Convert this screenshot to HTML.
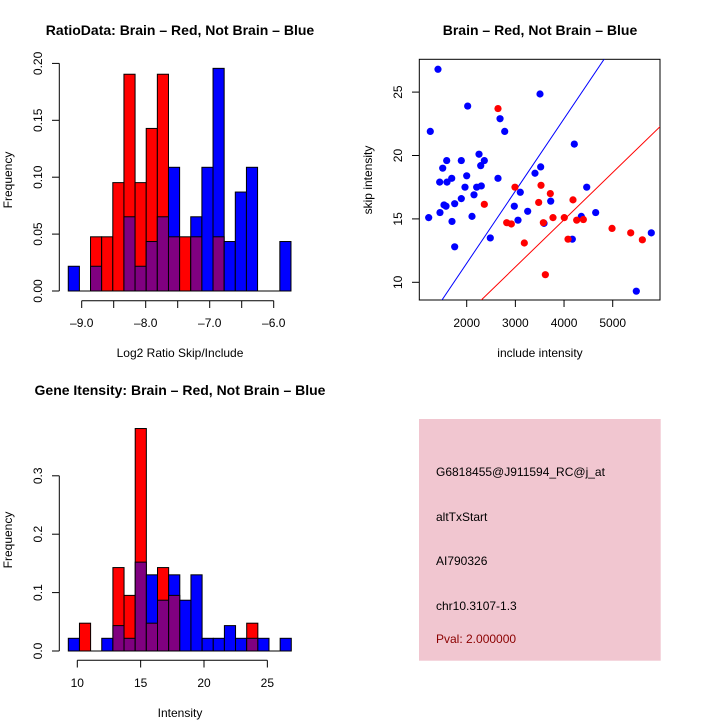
<!DOCTYPE html>
<html><head><meta charset="utf-8"><style>
html,body{margin:0;padding:0;background:#fff;}
svg{display:block;font-family:"Liberation Sans",sans-serif;}
</style></head><body>
<svg id="c" width="720" height="720" viewBox="0 0 720 720">
<defs>
<clipPath id="sc"><rect x="419.3" y="59.3" width="240.7" height="240.7"/></clipPath>
</defs>
<g id="info">
<rect x="419" y="419" width="241.7" height="241.7" fill="#f1c6d0"/>
<text x="436" y="476" font-size="12" fill="#000">G6818455@J911594_RC@j_at</text>
<text x="436" y="521" font-size="12" fill="#000">altTxStart</text>
<text x="436" y="565" font-size="12" fill="#000">AI790326</text>
<text x="436" y="610" font-size="12" fill="#000">chr10.3107-1.3</text>
<text x="436" y="643" font-size="12" fill="#8b0000">Pval: 2.000000</text>
</g>
</svg>
<script>
// Ratio histogram (top-left)
const ratioRed=[0,0,1/21,1/21,2/21,4/21,2/21,3/21,4/21,1/21,1/21,1/21,0,1/21,0,0,0,0,0,0];
const ratioBlue=[1/46,0,1/46,0,0,3/46,1/46,2/46,3/46,5/46,0,3/46,5/46,9/46,2/46,4/46,5/46,0,0,2/46];
const ratioXTicks=[-9,-8.5,-8,-7.5,-7,-6.5,-6];
const ratioXLabels=["-9.0","-8.0","-7.0","-6.0"];
const ratioYTicks=[0,0.05,0.1,0.15,0.2];
const ratioYLabels=["0.00","0.05","0.10","0.15","0.20"];
// Intensity histogram (bottom-left)
const intRed=[0,1/21,0,0,3/21,2/21,8/21,1/21,3/21,2/21,0,0,0,0,0,0,1/21,0,0,0];
const intBlue=[1/46,0,0,1/46,2/46,1/46,7/46,6/46,4/46,6/46,4/46,6/46,1/46,1/46,2/46,1/46,1/46,1/46,0,1/46];
const intXTicks=[10,15,20,25];
const intYTicks=[0,0.1,0.2,0.3];
const intYLabels=["0.0","0.1","0.2","0.3"];
// Scatter (top-right)
const blueX=[1410,3506,2020,2685,1252,2781,4211,1589,1889,1507,2253,2362,2288,3520,3403,2000,1692,2643,1445,1595,1965,2205,2300,3101,2150,1889,4466,1534,1575,1753,2978,3726,1451,3253,4355,4650,1219,2109,1698,3054,3588,2485,4170,1753,5793,5485];
const blueY=[26.8,24.85,23.9,22.9,21.9,21.9,20.9,19.6,19.6,19.0,20.1,19.6,19.2,19.1,18.6,18.4,18.2,18.2,17.9,17.9,17.5,17.5,17.6,17.1,16.9,16.6,17.5,16.1,16.0,16.2,16.0,16.4,15.5,15.6,15.2,15.5,15.1,15.2,14.8,14.9,14.65,13.5,13.4,12.8,13.9,9.3];
const redX=[2643,2992,3527,3718,2362,3479,4184,2822,2917,3575,3773,4005,4260,4397,3184,4082,3616,4986,5370,5609];
const redY=[23.7,17.5,17.65,17.0,16.15,16.3,16.5,14.7,14.6,14.7,15.1,15.1,14.9,14.95,13.1,13.4,10.6,14.25,13.9,13.35];
const blueLine=[0.097,0.005701];
const redLine=[0.044,0.003722];
const scXTicks=[2000,3000,4000,5000];
const scYTicks=[10,15,20,25];

const NS="http://www.w3.org/2000/svg";
const svg=document.getElementById('c');
function mk(tag,attrs,parent){const e=document.createElementNS(NS,tag);for(const k in attrs)e.setAttribute(k,attrs[k]);(parent||svg).appendChild(e);return e;}
function txt(s,x,y,size,attrs,parent){const e=mk('text',Object.assign({x:x,y:y,'font-size':size,'text-anchor':'middle','fill':'#000'},attrs||{}),parent);e.textContent=s;return e;}

function hist(g,red,blue,bx,bw,x,y){
  for(let i=0;i<red.length;i++){
    const x0=x(bx+i*bw),x1=x(bx+(i+1)*bw);
    const r=red[i],b=blue[i];
    const hi=Math.max(r,b),lo=Math.min(r,b);
    if(hi>0){
      const e=mk('rect',{x:x0,y:y(hi),width:x1-x0,height:y(0)-y(hi),fill:r>=b?'#ff0000':'#0000ff',stroke:'#000','stroke-width':1},g);
      
      
    }
    if(lo>0){
      const e=mk('rect',{x:x0,y:y(lo),width:x1-x0,height:y(0)-y(lo),fill:'#800080',stroke:'#000','stroke-width':1},g);
      
      
    }
  }
  const bl=mk('line',{x1:x(bx),x2:x(bx+red.length*bw),y1:y(0),y2:y(0),stroke:'#000','stroke-width':1},g);
  
  
}

// ---- top-left
(function(){
  const g=mk('g',{});
  
  
  const x=v=>81.7+(v+9)*64, y=v=>291-v*1138;
  hist(g,ratioRed,ratioBlue,-9.21,0.174,x,y);
  const xa=mk('g',{},g);
  
  
  mk('line',{x1:x(ratioXTicks[0]),x2:x(ratioXTicks[ratioXTicks.length-1]),y1:300.7,y2:300.7,stroke:'#000'},xa);
  ratioXTicks.forEach(t=>mk('line',{x1:x(t),x2:x(t),y1:300.7,y2:308,stroke:'#000'},xa));
  ratioXLabels.forEach(l=>{const e=txt(l.replace('-','\u2013'),x(parseFloat(l)),327,12,{},xa);});
  const ya=mk('g',{},g);
  
  
  mk('line',{x1:59.3,x2:59.3,y1:y(0),y2:y(0.2),stroke:'#000'},ya);
  ratioYTicks.forEach((t,i)=>{mk('line',{x1:52,x2:59.3,y1:y(t),y2:y(t),stroke:'#000'},ya);
    const e=txt(ratioYLabels[i],42,y(t),12,{transform:`rotate(-90 42 ${y(t)})`},ya);});
  const t1=txt('RatioData: Brain \u2013 Red, Not Brain \u2013 Blue',180,35,14,{'font-weight':'bold'},g);
  
  
  const t2=txt('Log2 Ratio Skip/Include',180,357,12,{},g);
  
  
  const t3=txt('Frequency',12,180,12,{transform:'rotate(-90 12 180)'},g);
  
  
})();

// ---- bottom-left
(function(){
  const g=mk('g',{});
  
  
  const x=v=>77.3+(v-10)*12.67, y=v=>651-v*584;
  hist(g,intRed,intBlue,9.29,0.88,x,y);
  const xa=mk('g',{},g);
  
  
  mk('line',{x1:x(intXTicks[0]),x2:x(intXTicks[intXTicks.length-1]),y1:660.3,y2:660.3,stroke:'#000'},xa);
  intXTicks.forEach(t=>{mk('line',{x1:x(t),x2:x(t),y1:660.3,y2:667.5,stroke:'#000'},xa);
    const e=txt(String(t),x(t),687,12,{},xa);});
  const ya=mk('g',{},g);
  
  
  mk('line',{x1:59.3,x2:59.3,y1:y(0),y2:y(0.3),stroke:'#000'},ya);
  intYTicks.forEach((t,i)=>{mk('line',{x1:52,x2:59.3,y1:y(t),y2:y(t),stroke:'#000'},ya);
    const e=txt(intYLabels[i],42,y(t),12,{transform:`rotate(-90 42 ${y(t)})`},ya);});
  const t1=txt('Gene Itensity: Brain \u2013 Red, Not Brain \u2013 Blue',180,395,14,{'font-weight':'bold'},g);
  
  
  const t2=txt('Intensity',180,717,12,{},g);
  
  
  const t3=txt('Frequency',12,540,12,{transform:'rotate(-90 12 540)'},g);
  
  
})();

// ---- scatter
(function(){
  const g=mk('g',{});
  
  
  const x=v=>466.7+(v-2000)*0.04867, y=v=>282.3-(v-10)*12.68;
  const box=mk('rect',{x:419.3,y:59.3,width:240.7,height:240.7,fill:'none',stroke:'#000'},g);
  
  
  const cl=mk('g',{'clip-path':'url(#sc)'},g);
  const x0=1000,x1=6600;
  const lb=mk('line',{x1:x(x0),y1:y(blueLine[0]+blueLine[1]*x0),x2:x(x1),y2:y(blueLine[0]+blueLine[1]*x1),stroke:'#0000ff','stroke-width':1},cl);
  
  
  const lr=mk('line',{x1:x(x0),y1:y(redLine[0]+redLine[1]*x0),x2:x(x1),y2:y(redLine[0]+redLine[1]*x1),stroke:'#ff0000','stroke-width':1},cl);
  
  
  blueX.forEach((v,i)=>{const c=mk('circle',{cx:x(v),cy:y(blueY[i]),r:3.6,fill:'#0000ff'},g);
    
    });
  redX.forEach((v,i)=>{const c=mk('circle',{cx:x(v),cy:y(redY[i]),r:3.6,fill:'#ff0000'},g);
    
    });
  scXTicks.forEach(t=>{mk('line',{x1:x(t),x2:x(t),y1:300,y2:307,stroke:'#000'},g);
    const e=txt(String(t),x(t),327,12,{},g);});
  scYTicks.forEach(t=>{mk('line',{x1:412,x2:419.3,y1:y(t),y2:y(t),stroke:'#000'},g);
    const e=txt(String(t),402,y(t),12,{transform:`rotate(-90 402 ${y(t)})`},g);});
  const t1=txt('Brain \u2013 Red, Not Brain \u2013 Blue',540,35,14,{'font-weight':'bold'},g);
  
  
  const t2=txt('include intensity',540,357,12,{},g);
  
  
  const t3=txt('skip intensity',372,180,12,{transform:'rotate(-90 372 180)'},g);
  
  
})();
</script>
</body></html>
